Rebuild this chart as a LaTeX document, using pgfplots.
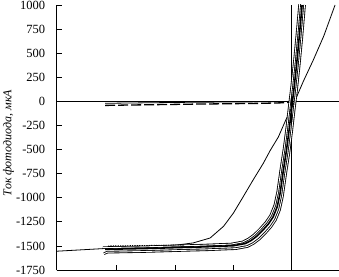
\documentclass[border=0pt]{standalone}
\usepackage{fontspec}
\setmainfont{Liberation Serif}
\usepackage{pgfplots}
\usepackage{pgfplotstable}
\pgfplotsset{compat=1.18}

\pgfplotstableread{
x y
-4.03 -1555
-3.5 -1537
-3.0 -1520
-2.5 -1507
-2.0 -1493
-1.69 -1469
-1.4 -1418
-1.17 -1297
-1.0 -1159
-0.83 -987
-0.66 -813
-0.49 -645
-0.37 -510
-0.23 -370
-0.1 -190
0.05 0
0.2 210
0.37 430
0.55 680
0.742 1000
}\thincurve

\pgfplotstableread{
x y
-3.2 -1535
-2.5 -1527
-2.0 -1518
-1.5 -1510
-1.0 -1498
-0.8 -1476
-0.7 -1445
-0.6 -1400
-0.5 -1340
-0.4 -1272
-0.32 -1200
-0.25 -1095
-0.2 -955
-0.145 -720
-0.09 -505
-0.04 -270
0.0 -60
0.04 140
0.086 400
0.13 680
0.177 1000
}\mainc

\pgfplotstableread{
x y
-3.24 -1518
-2.54 -1510
-2.04 -1501
-1.54 -1493
-1.04 -1481
-0.84 -1459
-0.74 -1428
-0.64 -1383
-0.54 -1323
-0.44 -1255
-0.36 -1183
-0.29 -1078
-0.24 -938
-0.185 -703
-0.13 -488
-0.08 -253
-0.04 -43
0.0 157
0.046 417
0.09 697
0.137 1017
}\hollowA

\pgfplotstableread{
x y
-3.22 -1580
-3.16 -1565
-2.46 -1557
-1.96 -1548
-1.46 -1540
-0.96 -1528
-0.76 -1506
-0.66 -1475
-0.56 -1430
-0.46 -1370
-0.36 -1302
-0.28 -1230
-0.21 -1125
-0.16 -985
-0.105 -750
-0.05 -535
0.0 -300
0.04 -90
0.08 110
0.126 370
0.17 650
0.215 970
0.22 1000
}\hollowB

\pgfplotstableread{
x y
-3.2 -42
-2.8 -38
-2.2 -33
-1.6 -28
-1.0 -24
-0.5 -20
-0.1 -14
0.0 -5
}\dark

\pgfplotstableread{
x y
-3.2 -20
-2.5 -15
-1.8 -10
-1.0 -6
-0.3 -4
0.0 0
}\darkb

\pgfplotstableread{
x y
-3.15 -1500
-2.6 -1496
-2.1 -1492
-1.85 -1489
}\dotc

\begin{document}
\begin{tikzpicture}
\begin{axis}[
  at={(0,0)}, anchor=south west,
  scale only axis, width=282.3pt, height=265pt,
  xmin=-4.03, xmax=0.81, ymin=-1750, ymax=1000,
  axis x line*=bottom, axis y line*=left,
  tick align=inside, major tick length=5pt,
  xtick={-3,-2,-1}, xticklabels={},
  ytick={-1750,-1500,...,1000},
  /pgf/number format/assume math mode=true,
  /pgf/number format/1000 sep={},
  yticklabel style={font=\fontsize{12.5}{14}\selectfont, xshift=-8pt},
  ylabel={\textit{Ток фотодиода, мкА}},
  ylabel style={font=\fontsize{12}{14}\selectfont, at={(axis description cs:-0.1707,0.479)}, anchor=center},
  axis line style={line width=0.8pt},
  every tick/.style={line width=0.8pt, black},
  line join=round,
]
\draw[line width=0.8pt] (axis cs:0,-1750) -- (axis cs:0,1000);
\draw[line width=0.8pt] (axis cs:-4.03,0) -- (axis cs:0.81,0);
\addplot[black, line width=1.3pt, dash pattern=on 10pt off 3pt] table {\dark};
\addplot[black, line width=0.8pt] table {\darkb};
\addplot[black, line width=0.8pt] table {\thincurve};
\addplot[black, line width=2.6pt] table {\hollowB};
\addplot[white, line width=0.9pt] table {\hollowB};
\addplot[black, line width=2.6pt] table {\hollowA};
\addplot[white, line width=0.9pt] table {\hollowA};
\addplot[black, line width=1.6pt] table {\mainc};
\addplot[black, line width=0.8pt, dash pattern=on 1.2pt off 1.2pt] table {\dotc};
\end{axis}
\pgfresetboundingbox
\path[use as bounding box] (-56.7pt,-6pt) rectangle (282.3pt,270pt);
\end{tikzpicture}
\end{document}
